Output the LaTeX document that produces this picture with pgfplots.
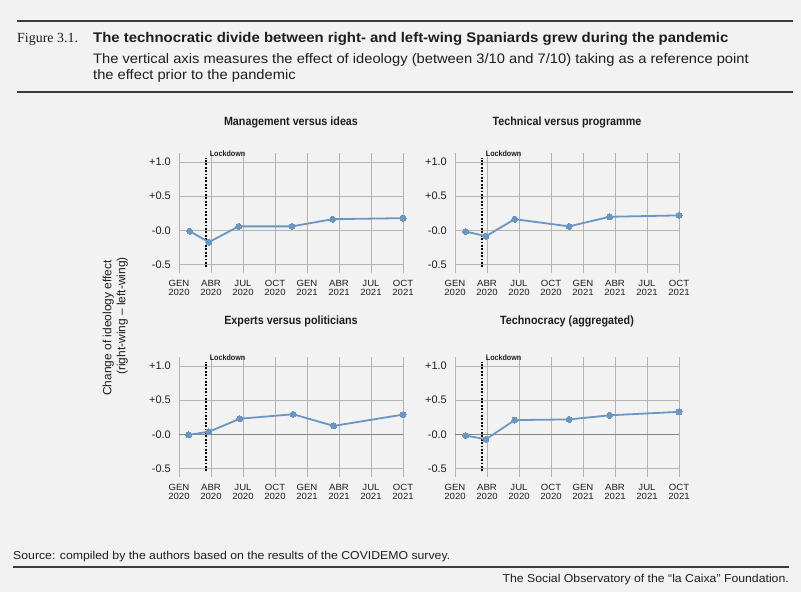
\documentclass[border=0pt]{standalone}
\usepackage{pgfplots}
\pgfplotsset{compat=1.18}
\usepackage{fontspec}
\setmainfont{Liberation Sans}
\newfontfamily\serifc{Liberation Serif}
\newfontfamily\cond[FakeStretch=0.9]{Liberation Sans}
\newfontfamily\wide[FakeStretch=1.07]{Liberation Sans}
\definecolor{bg}{HTML}{F2F2F2}
\definecolor{ln}{RGB}{107,150,192}
\definecolor{grd}{HTML}{B4B4B4}
\definecolor{zer}{HTML}{858585}
\definecolor{rulec}{HTML}{3C3C3C}
\definecolor{txt}{HTML}{1E1E1E}

\pgfplotstableread{
x y
1.0 -0.01
2.8 -0.17
5.6 0.06
10.6 0.06
14.4 0.165
21 0.18
}\dataA
\pgfplotstableread{
x y
1.0 -0.015
2.9 -0.083
5.6 0.165
10.7 0.06
14.5 0.20
21 0.22
}\dataB
\pgfplotstableread{
x y
0.9 -0.005
2.8 0.04
5.7 0.23
10.7 0.295
14.5 0.125
21 0.29
}\dataC
\pgfplotstableread{
x y
1.0 -0.015
2.9 -0.07
5.6 0.21
10.7 0.22
14.5 0.28
21 0.33
}\dataD

\pgfplotsset{
  panel/.style={
    scale only axis, width=224bp, height=120bp,
    xmin=0, xmax=21, ymin=-0.62, ymax=1.13,
    clip=false,
    axis line style={draw=none},
    major tick length=0pt,
    grid=major,
    grid style={grd, line width=0.6bp},
    xtick={0,3,...,21},
    xticklabels={{GEN\\2020},{ABR\\2020},{JUL\\2020},{OCT\\2020},{GEN\\2021},{ABR\\2021},{JUL\\2021},{OCT\\2021}},
    xticklabel style={font=\wide\fontsize{9}{9}\selectfont, align=center, inner sep=0pt, yshift=-7.5bp, text=txt},
    ytick={-0.5,0,0.5,1},
    yticklabels={-0.5,-0.0,+0.5,+1.0},
    yticklabel style={font=\fontsize{11}{11}\selectfont, inner sep=0pt, xshift=-8bp, text=txt},
    title style={font=\cond\bfseries\fontsize{12}{12}\selectfont, text=txt, at={(0.5,1)}, anchor=center},
  },
  lock/.style={black, line width=2.2bp, dash pattern=on 1.8bp off 1.6bp},
  ser/.style={ln, line width=1.8bp, mark=*, mark size=3bp, mark options={fill=ln, draw=ln, line width=0pt}},
}

\newcommand{\lockdown}{%
  \addplot[lock] coordinates {(2.5,-0.534) (2.5,1.064)};
  \node[anchor=west, inner sep=0pt, font=\cond\bfseries\fontsize{8}{8}\selectfont, text=txt] at (axis cs:2.5,1.12) {\hspace{4bp}Lockdown};
}

\begin{document}
\begin{tikzpicture}
\useasboundingbox (0,0) rectangle (801bp,-592bp);
\fill[bg] (0,0) rectangle (801bp,-592bp);

% header
\draw[rulec, line width=2bp] (17bp,-21bp) -- (793bp,-21bp);
\node[anchor=base west, inner sep=0pt, font=\serifc\fontsize{14}{14}\selectfont, text=txt] at (17bp,-42bp) {Figure 3.1.};
\node[anchor=base west, inner sep=0pt, font=\wide\bfseries\fontsize{14}{14}\selectfont, text=txt] at (93bp,-42bp) {The technocratic divide between right- and left-wing Spaniards grew during the pandemic};
\node[anchor=base west, inner sep=0pt, font=\wide\fontsize{13.8}{13.8}\selectfont, text=txt] at (93bp,-63bp) {The vertical axis measures the effect of ideology (between 3/10 and 7/10) taking as a reference point};
\node[anchor=base west, inner sep=0pt, font=\wide\fontsize{13.8}{13.8}\selectfont, text=txt] at (93bp,-79bp) {the effect prior to the pandemic};
\draw[rulec, line width=2bp] (17bp,-91.7bp) -- (793bp,-91.7bp);

% y label
\node[rotate=90, inner sep=0pt, font=\fontsize{12}{12}\selectfont, text=txt] at (108.3bp,-328bp) {Change of ideology effect};
\node[rotate=90, inner sep=0pt, font=\fontsize{12}{12}\selectfont, text=txt] at (122.3bp,-316bp) {(right-wing -- left-wing)};

% panel 1
\begin{axis}[panel, at={(179bp,-273bp)}, anchor=south west,
  title={Management versus ideas}, title style={yshift=24.7bp}]
\lockdown
\addplot[ser] table[x=x,y=y] {\dataA};
\end{axis}

% panel 2
\begin{axis}[panel, at={(455bp,-273bp)}, anchor=south west,
  title={Technical versus programme}, title style={yshift=24.7bp}]
\lockdown
\addplot[ser] table[x=x,y=y] {\dataB};
\end{axis}

% panel 3
\begin{axis}[panel, at={(179bp,-477bp)}, anchor=south west,
  title={Experts versus politicians}, title style={yshift=30bp}]
\addplot[zer, line width=0.8bp] coordinates {(0,0) (21,0)};
\lockdown
\addplot[ser] table[x=x,y=y] {\dataC};
\end{axis}

% panel 4
\begin{axis}[panel, at={(455bp,-477bp)}, anchor=south west,
  title={Technocracy (aggregated)}, title style={yshift=30bp}]
\addplot[zer, line width=0.8bp] coordinates {(0,0) (21,0)};
\lockdown
\addplot[ser] table[x=x,y=y] {\dataD};
\end{axis}

% footer
\node[anchor=base west, inner sep=0pt, font=\wide\fontsize{11.5}{11.5}\selectfont, text=txt] at (13bp,-559.3bp) {Source: compiled by the authors based on the results of the COVIDEMO survey.};
\draw[rulec, line width=2bp] (13bp,-566.7bp) -- (789bp,-566.7bp);
\node[anchor=base east, inner sep=0pt, font=\wide\fontsize{11.5}{11.5}\selectfont, text=txt] at (789bp,-582.5bp) {The Social Observatory of the “la Caixa” Foundation.};
\end{tikzpicture}
\end{document}
